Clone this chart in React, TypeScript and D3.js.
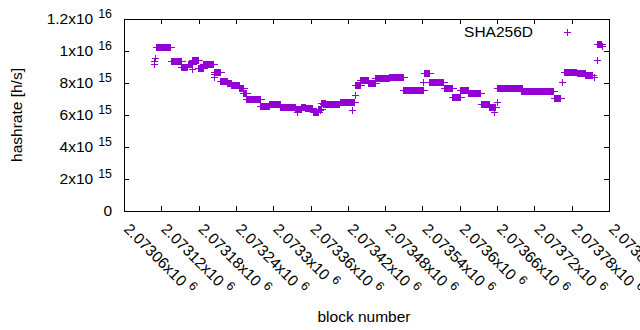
import React, { useEffect, useRef } from 'react';
import * as d3 from 'd3';

// Runs of consecutive blocks that share one hashrate estimate
const runStart = [
  2073111, 2073136, 2073152, 2073163, 2073169, 2073179, 2073187, 2073205, 2073214, 2073226,
  2073232, 2073245, 2073251, 2073256, 2073279, 2073293, 2073311, 2073335, 2073345, 2073351,
  2073364, 2073372, 2073377, 2073380, 2073407, 2073431, 2073440, 2073452, 2073464, 2073486,
  2073509, 2073542, 2073550, 2073575, 2073587, 2073600, 2073613, 2073634, 2073647, 2073660,
  2073698, 2073752, 2073768, 2073789, 2073801, 2073821,
];
const runEnd = [
  2073134, 2073152, 2073161, 2073169, 2073179, 2073187, 2073203, 2073214, 2073226, 2073232,
  2073245, 2073251, 2073256, 2073279, 2073293, 2073311, 2073335, 2073345, 2073351, 2073362,
  2073372, 2073377, 2073383, 2073406, 2073430, 2073440, 2073452, 2073464, 2073486, 2073509,
  2073541, 2073550, 2073573, 2073587, 2073600, 2073613, 2073633, 2073647, 2073657, 2073700,
  2073750, 2073761, 2073787, 2073801, 2073813, 2073827,
];
const runValue = [
  10.27e15, 9.36e15, 8.98e15, 9.21e15, 9.42e15, 8.92e15, 9.17e15, 8.69e15, 8.11e15, 8.02e15,
  7.88e15, 7.67e15, 7.36e15, 6.98e15, 6.58e15, 6.67e15, 6.48e15, 6.36e15, 6.48e15, 6.42e15,
  6.21e15, 6.38e15, 6.78e15, 6.67e15, 6.79e15, 7.88e15, 8.17e15, 7.98e15, 8.29e15, 8.36e15,
  7.56e15, 8.61e15, 8.08e15, 7.67e15, 7.11e15, 7.56e15, 7.39e15, 6.67e15, 6.52e15, 7.71e15,
  7.52e15, 7.04e15, 8.67e15, 8.61e15, 8.5e15, 10.44e15,
];

// Lone blocks that stand off the runs
const singleBlock = [
  2073108, 2073108, 2073110, 2073169, 2073204, 2073205, 2073338, 2073375, 2073427, 2073432,
  2073541, 2073655, 2073660, 2073764, 2073816, 2073821, 2073828,
];
const singleValue = [
  9.19e15, 9.38e15, 9.54e15, 8.86e15, 8.56e15, 8.38e15, 6.19e15, 6.31e15, 6.29e15, 7.23e15,
  8.08e15, 6.21e15, 6.83e15, 8.04e15, 8.36e15, 9.44e15, 10.3e15,
];

const xTicks = [
  2073060, 2073120, 2073180, 2073240, 2073300, 2073360, 2073420,
  2073480, 2073540, 2073600, 2073660, 2073720, 2073780, 2073840,
];
const yTicks = [0, 2e15, 4e15, 6e15, 8e15, 1e16, 1.2e16];
const seriesName = 'SHA256D';

const COLOR = '#9400d3';
const FONT = '"Liberation Sans", Arial, sans-serif';

// gnuplot-like "1.2x10^16"
const sci = (v: number): [string, string] => {
  if (v === 0) return ['0', ''];
  const e = Math.floor(Math.log10(v) + 1e-9);
  const m = +(v / 10 ** e).toPrecision(6);
  return [`${m}x10`, `${e}`];
};

const App: React.FC = () => {
  const svgRef = useRef<SVGSVGElement>(null);

  useEffect(() => {
    if (!svgRef.current) return;
    const svg = d3.select(svgRef.current);
    svg.selectAll('*').remove();

    const left = 124, right = 609, top = 19, bottom = 211;
    const x = d3.scaleLinear().domain([2073060, 2073840]).range([left, right]);
    const y = d3.scaleLinear().domain([0, 1.2e16]).range([bottom, top]);
    const ps = 3.5; // half size of the "+" point
    const tick = 5;

    const g = svg.append('g').attr('font-family', FONT).attr('fill', '#000');

    // border
    g.append('rect')
      .attr('x', left + 0.5).attr('y', top + 0.5)
      .attr('width', right - left).attr('height', bottom - top)
      .attr('fill', 'none').attr('stroke', '#000').attr('stroke-width', 1);

    // y ticks, mirrored on the right
    yTicks.forEach(t => {
      const yy = Math.round(y(t)) + 0.5;
      g.append('line').attr('x1', left).attr('x2', left + tick).attr('y1', yy).attr('y2', yy).attr('stroke', '#000');
      g.append('line').attr('x1', right - tick).attr('x2', right).attr('y1', yy).attr('y2', yy).attr('stroke', '#000');
      const [m, e] = sci(t);
      const txt = g.append('text')
        .attr('x', 112).attr('y', y(t) + 5.3)
        .attr('text-anchor', 'end').attr('font-size', 15.5);
      txt.append('tspan').text(m);
      if (e) txt.append('tspan').attr('dx', 5).attr('dy', -6).attr('font-size', 12.4).text(e);
    });

    // x ticks, mirrored on top, labels rotated down-right
    xTicks.forEach(t => {
      const xx = Math.round(x(t)) + 0.5;
      g.append('line').attr('x1', xx).attr('x2', xx).attr('y1', bottom).attr('y2', bottom - tick).attr('stroke', '#000');
      g.append('line').attr('x1', xx).attr('x2', xx).attr('y1', top).attr('y2', top + tick).attr('stroke', '#000');
      const [m, e] = sci(t);
      const txt = g.append('text')
        .attr('transform', `translate(${x(t) - 1},230) rotate(45)`)
        .attr('font-size', 15.5);
      txt.append('tspan').text(m);
      txt.append('tspan').attr('dx', 5).attr('dy', -6).attr('font-size', 12.4).text(e);
    });

    // axis titles
    g.append('text')
      .attr('transform', 'translate(21.5,115) rotate(-90)')
      .attr('text-anchor', 'middle').attr('font-size', 15.5)
      .text('hashrate [h/s]');
    g.append('text')
      .attr('x', 364).attr('y', 321.5)
      .attr('text-anchor', 'middle').attr('font-size', 15.5)
      .text('block number');

    const marks = g.append('g').attr('shape-rendering', 'crispEdges');

    // runs: overlapping "+" points merge into a solid band with arms at the ends
    runStart.forEach((s, i) => {
      const x0 = Math.round(x(s));
      const x1 = Math.round(x(runEnd[i]));
      const yy = Math.round(y(runValue[i]));
      marks.append('rect')
        .attr('x', x0).attr('y', yy - ps)
        .attr('width', x1 - x0 + 1).attr('height', ps * 2)
        .attr('fill', COLOR);
      marks.append('line')
        .attr('x1', x0 - ps).attr('x2', x1 + 1 + ps)
        .attr('y1', yy + 0.5).attr('y2', yy + 0.5)
        .attr('stroke', COLOR);
    });

    const plus = (cx: number, cy: number) => {
      const px = Math.round(cx) + 0.5, py = Math.round(cy) + 0.5;
      marks.append('path')
        .attr('d', `M${px - ps},${py}H${px + ps}M${px},${py - ps}V${py + ps}`)
        .attr('stroke', COLOR).attr('fill', 'none');
    };
    singleBlock.forEach((b, i) => plus(x(b), y(singleValue[i])));

    // key
    g.append('text')
      .attr('x', 533).attr('y', 37.3)
      .attr('text-anchor', 'end').attr('font-size', 15.5)
      .text(seriesName);
    plus(567, 32);
  }, []);

  return (
    <svg
      ref={svgRef}
      width={640}
      height={330}
      style={{ position: 'absolute', left: 0, top: 0, background: '#fff' }}
    />
  );
};

export default App;
